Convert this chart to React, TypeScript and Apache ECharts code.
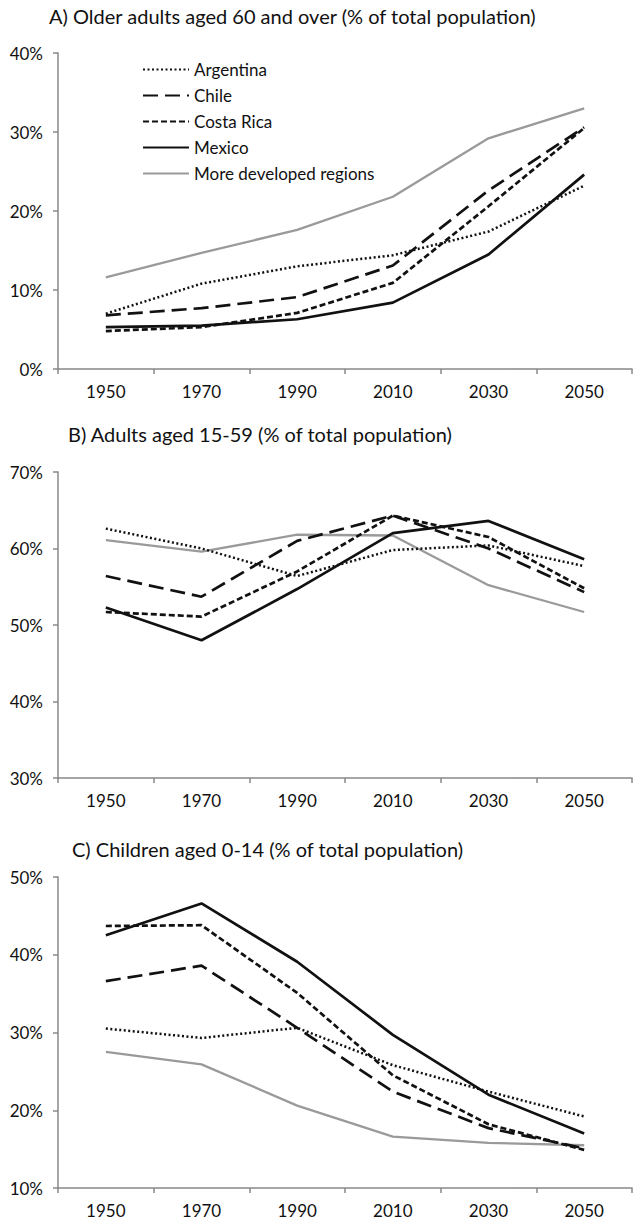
import React, { useEffect, useRef } from "react";
import * as echarts from "echarts";

const years = ["1950", "1970", "1990", "2010", "2030", "2050"];
const countries = ["Argentina", "Chile", "Costa Rica", "Mexico", "More developed regions"];

// Panel A: older adults aged 60+
const olderArgentina = [7.0, 10.8, 13.0, 14.4, 17.4, 23.2];
const olderChile = [6.8, 7.7, 9.1, 13.1, 22.6, 30.6];
const olderCostaRica = [4.8, 5.3, 7.1, 10.9, 20.6, 30.5];
const olderMexico = [5.3, 5.5, 6.3, 8.4, 14.5, 24.6];
const olderDeveloped = [11.6, 14.7, 17.6, 21.8, 29.2, 33.0];

// Panel B: adults aged 15-59
const adultsArgentina = [62.6, 60.0, 56.4, 59.8, 60.4, 57.7];
const adultsChile = [56.4, 53.7, 61.0, 64.3, 60.0, 54.3];
const adultsCostaRica = [51.7, 51.1, 57.0, 64.3, 61.5, 54.8];
const adultsMexico = [52.3, 48.0, 54.7, 62.0, 63.6, 58.6];
const adultsDeveloped = [61.1, 59.6, 61.8, 61.7, 55.2, 51.7];

// Panel C: children aged 0-14
const childArgentina = [30.5, 29.3, 30.6, 25.8, 22.4, 19.2];
const childChile = [36.6, 38.6, 30.6, 22.4, 17.7, 15.1];
const childCostaRica = [43.7, 43.8, 35.1, 24.5, 18.2, 14.9];
const childMexico = [42.5, 46.6, 39.1, 29.7, 22.0, 17.0];
const childDeveloped = [27.5, 25.9, 20.6, 16.6, 15.8, 15.5];

const titles = [
  "A) Older adults aged 60 and over (% of total population)",
  "B) Adults aged 15-59 (% of total population)",
  "C) Children aged 0-14 (% of total population)",
];

const yMins = [0, 30, 10];
const yMaxs = [40, 70, 50];

const FONT = "Lato, 'Liberation Sans', sans-serif";
const BLACK = "#111111";
const GRAY = "#9a9a9a";
const AXIS = "#888888";
const TEXT = "#111111";

const lineStyles = [
  { color: BLACK, width: 2.5, type: [2, 2.5] as any },
  { color: BLACK, width: 2.7, type: [15, 7] as any },
  { color: BLACK, width: 2.7, type: [6, 3] as any },
  { color: BLACK, width: 2.7, type: "solid" as any },
  { color: GRAY, width: 2.3, type: "solid" as any },
];

const panels = [
  [olderArgentina, olderChile, olderCostaRica, olderMexico, olderDeveloped],
  [adultsArgentina, adultsChile, adultsCostaRica, adultsMexico, adultsDeveloped],
  [childArgentina, childChile, childCostaRica, childMexico, childDeveloped],
];

const grids = [
  { left: 58, right: 3, top: 53, height: 316 },
  { left: 58, right: 3, top: 472, height: 306 },
  { left: 58, right: 3, top: 877, height: 311 },
];

const titlePos = [
  { left: 49, top: 6 },
  { left: 68, top: 424 },
  { left: 72, top: 839 },
];

export default function App() {
  const ref = useRef<HTMLDivElement>(null);

  useEffect(() => {
    if (!ref.current) return;
    const chart = echarts.init(ref.current, undefined, { renderer: "svg" });

    const series: any[] = [];
    panels.forEach((panel, p) => {
      panel.forEach((data, i) => {
        series.push({
          type: "line",
          name: countries[i],
          xAxisIndex: p,
          yAxisIndex: p,
          data,
          symbol: "none",
          lineStyle: lineStyles[i],
          itemStyle: { color: lineStyles[i].color },
          z: i === 4 ? 1 : 2,
        });
      });
    });

    chart.setOption({
      animation: false,
      backgroundColor: "#ffffff",
      title: titles.map((t, i) => ({
        text: t,
        left: titlePos[i].left,
        top: titlePos[i].top,
        padding: 0,
        textStyle: { fontFamily: FONT, fontSize: 20, fontWeight: "normal", color: TEXT },
      })),
      legend: {
        data: countries,
        orient: "vertical",
        left: 142,
        top: 61,
        itemWidth: 46,
        itemHeight: 14,
        itemGap: 9,
        padding: 0,
        itemStyle: { opacity: 0 },
        textStyle: { fontFamily: FONT, fontSize: 17, color: TEXT },
        selectedMode: false,
      },
      grid: grids,
      xAxis: grids.map((_, i) => ({
        type: "category",
        gridIndex: i,
        data: years,
        boundaryGap: true,
        axisLine: { show: true, lineStyle: { color: AXIS, width: 1.5 } },
        axisTick: { show: true, alignWithLabel: false, length: 5, lineStyle: { color: AXIS, width: 1.5 } },
        axisLabel: { fontFamily: FONT, fontSize: 17, color: TEXT, margin: 14 },
        splitLine: { show: false },
      })),
      yAxis: grids.map((_, i) => ({
        type: "value",
        gridIndex: i,
        min: yMins[i],
        max: yMaxs[i],
        interval: 10,
        axisLine: { show: true, lineStyle: { color: AXIS, width: 1.5 } },
        axisTick: { show: true, length: 5, lineStyle: { color: AXIS, width: 1.5 } },
        axisLabel: { fontFamily: FONT, fontSize: 17, color: TEXT, margin: 15, formatter: "{value}%" },
        splitLine: { show: false },
      })),
      series,
    });

    return () => chart.dispose();
  }, []);

  return (
    <div
      ref={ref}
      style={{ position: "absolute", left: 0, top: 0, width: 635, height: 1220 }}
    />
  );
}
